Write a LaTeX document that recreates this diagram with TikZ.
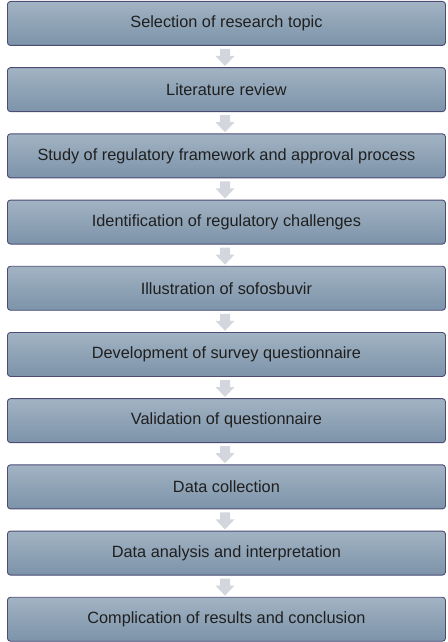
\documentclass[tikz,border=0pt]{standalone}
\usepackage{fontspec}
\setmainfont{Liberation Sans}
\usetikzlibrary{calc}
\begin{document}
\begin{tikzpicture}[x=1pt,y=-1pt,
  stepbox/.style={draw=black!60!blue!40!gray, line width=0.9pt, rounded corners=3pt,
    top color=boxtop, bottom color=boxbot, minimum width=438pt, minimum height=44pt,
    inner sep=0pt, font=\fontsize{16.3}{18}\selectfont, text=black!88, anchor=north west},
  downarrow/.style={fill=arrowgray, draw=none}]
\definecolor{boxtop}{HTML}{A2B3C3}
\definecolor{boxbot}{HTML}{7C93A9}
\definecolor{arrowgray}{HTML}{D3D7DD}
\useasboundingbox (0,0) rectangle (447,642);
\foreach \t [count=\i] in {Selection of research topic, Literature review, Study of regulatory framework and approval process, Identification of regulatory challenges, Illustration of sofosbuvir, Development of survey questionnaire, Validation of questionnaire, Data collection, Data analysis and interpretation, Complication of results and conclusion}{
  \pgfmathsetmacro{\yy}{1+(\i-1)*66.2}
  \node[stepbox] (b\i) at (7,\yy) {\t};
}
\foreach \i in {1,...,9}{
  \pgfmathsetmacro{\ya}{1+(\i-1)*66.2+48}
  \coordinate (a\i) at (225,\ya);
  \fill[downarrow] ($(a\i)+(-5,0)$) -- ++(10,0) -- ++(0,7) -- ++(4.5,0) -- ($(a\i)+(0,17)$) -- ($(a\i)+(-9.5,7)$) -- ++(4.5,0) -- cycle;
}
\end{tikzpicture}
\end{document}
